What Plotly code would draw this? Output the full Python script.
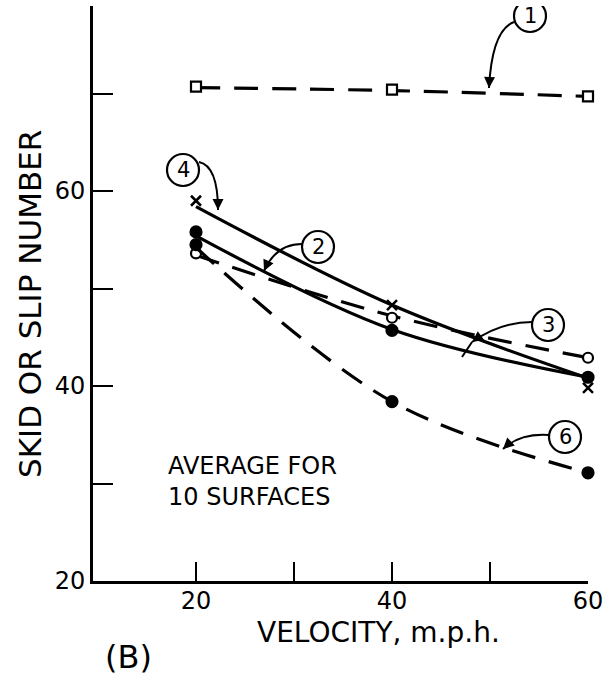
import plotly.graph_objects as go

# ---------------- data ----------------
velocity = [20, 40, 60]

# observed points
s1_points = [70.7, 70.4, 69.7]   # (1) open squares
s2_points = [53.6, 47.0, 42.9]   # (2) open circles
s3_points = [55.8, 45.7, 40.9]   # (3) filled circles
s4_points = [59.0, 48.3, 39.8]   # (4) x marks
s6_points = [54.5, 38.4, 31.1]   # (6) filled circles

# faired curves drawn through the points
s1_curve = [70.6, 70.3, 69.7]
s2_curve = [53.4, 47.2, 42.9]
s3_curve = [55.4, 45.8, 40.9]
s4_curve = [58.4, 48.3, 40.8]
s6_curve = [54.2, 38.4, 31.1]

x_tick_vals = [20, 30, 40, 50, 60]
x_tick_text = ["20", "", "40", "", "60"]
y_tick_vals = [20, 30, 40, 50, 60, 70]
y_tick_text = ["20", "", "40", "", "60", ""]

FONT = "DejaVu Sans"
INK = "black"

# ---------------- pixel helpers for decorations ----------------
def dx(px):
    return 20 + (px - 196) / 9.8

def dy(py):
    return 20 + (581 - py) / 9.75

fig = go.Figure()

DASH = "24px,14px"

def add_series(curve, pts, dash, symbol, size, fill, mline=2.2):
    fig.add_trace(go.Scatter(
        x=velocity, y=curve, mode="lines",
        line=dict(color=INK, width=3.2, dash=dash, shape="spline", smoothing=1.0),
        hoverinfo="skip", showlegend=False, cliponaxis=False))
    fig.add_trace(go.Scatter(
        x=velocity, y=pts, mode="markers",
        marker=dict(symbol=symbol, size=size, color=fill,
                    line=dict(color=INK, width=mline)),
        showlegend=False, cliponaxis=False))

add_series(s1_curve, s1_points, DASH, "square", 10, "white")
add_series(s2_curve, s2_points, DASH, "circle", 10, "white")
add_series(s3_curve, s3_points, "solid", "circle", 11, INK)
add_series(s4_curve, s4_points, "solid", "x-thin", 10, INK, 2.5)
add_series(s6_curve, s6_points, DASH, "circle", 11, INK)

# ---------------- circled labels with curved arrows ----------------
labels = [
    # (text, circle center px, radius, arrow start, control, end)
    ("1", (530, 16), 16, (514, 22), (492, 30), (489, 88)),
    ("4", (183, 170), 16, (199, 162), (218, 166), (218, 210)),
    ("2", (318, 247), 16, (302, 244), (276, 244), (264, 271)),
    ("3", (548, 325), 16, (532, 322), (500, 322), (472, 342)),
    ("6", (565, 437), 16, (549, 435), (520, 433), (503, 449)),
]

shapes = []
annotations = []
for txt, (cx, cy), r, st, ct, en in labels:
    shapes.append(dict(type="circle", xref="x", yref="y",
                       x0=dx(cx - r), x1=dx(cx + r), y0=dy(cy + r), y1=dy(cy - r),
                       line=dict(color=INK, width=2.2)))
    annotations.append(dict(x=dx(cx), y=dy(cy), xref="x", yref="y", text=txt,
                            xanchor="center", yanchor="middle",
                            showarrow=False, font=dict(family=FONT, size=21, color=INK)))
    path = "M {},{} Q {},{} {},{}".format(dx(st[0]), dy(st[1]), dx(ct[0]), dy(ct[1]),
                                          dx(en[0]), dy(en[1]))
    shapes.append(dict(type="path", xref="x", yref="y", path=path,
                       line=dict(color=INK, width=2)))
    tx, ty = en[0] - ct[0], en[1] - ct[1]
    L = (tx ** 2 + ty ** 2) ** 0.5
    annotations.append(dict(x=dx(en[0]), y=dy(en[1]), xref="x", yref="y", text="",
                            showarrow=True, arrowhead=2, arrowsize=1.1, arrowwidth=2,
                            arrowcolor=INK, ax=-tx / L * 10, ay=-ty / L * 10, standoff=0))

# stub from arrow (3) down to curve 3
shapes.append(dict(type="line", xref="x", yref="y",
                   x0=dx(472), y0=dy(342), x1=dx(462), y1=dy(357),
                   line=dict(color=INK, width=2)))

# ---------------- texts ----------------
annotations += [
    dict(x=dx(166), y=dy(481), xref="x", yref="y", xanchor="left", yanchor="middle",
         text="AVERAGE FOR<br>10 SURFACES", align="left", showarrow=False,
         font=dict(family=FONT, size=24, color=INK)),
    dict(x=(378 - 93) / 495, y=(581 - 632) / 575, xref="paper", yref="paper",
         xanchor="center", yanchor="middle",
         text="VELOCITY, m.p.h.", showarrow=False,
         font=dict(family=FONT, size=28, color=INK)),
    dict(x=(128 - 93) / 495, y=(581 - 657) / 575, xref="paper", yref="paper",
         xanchor="center", yanchor="middle",
         text="(B)", showarrow=False,
         font=dict(family=FONT, size=32, color=INK)),
    dict(x=(30 - 93) / 495, y=(581 - 304) / 575, xref="paper", yref="paper",
         xanchor="center", yanchor="middle",
         text="SKID OR SLIP NUMBER", textangle=-90, showarrow=False,
         font=dict(family=FONT, size=31, color=INK)),
]

fig.update_layout(
    width=613, height=677,
    margin=dict(l=93, r=25, t=6, b=96, autoexpand=False),
    paper_bgcolor="white", plot_bgcolor="white",
    shapes=shapes, annotations=annotations,
    showlegend=False,
)
fig.update_xaxes(
    range=[dx(93), 60], showgrid=False, zeroline=False,
    showline=True, linecolor=INK, linewidth=2.5,
    ticks="inside", ticklen=19, tickwidth=2, tickcolor=INK,
    tickvals=x_tick_vals, ticktext=x_tick_text, ticklabelstandoff=-4,
    tickfont=dict(family=FONT, size=24, color=INK),
)
fig.update_yaxes(
    range=[20, dy(6)], showgrid=False, zeroline=False,
    showline=True, linecolor=INK, linewidth=3,
    ticks="inside", ticklen=20, tickwidth=2, tickcolor=INK,
    tickvals=y_tick_vals, ticktext=y_tick_text, ticklabelstandoff=0,
    tickfont=dict(family=FONT, size=24, color=INK),
)

fig.write_html("out.html", config={"displayModeBar": False},
               post_script="document.body.style.margin='0px';")
